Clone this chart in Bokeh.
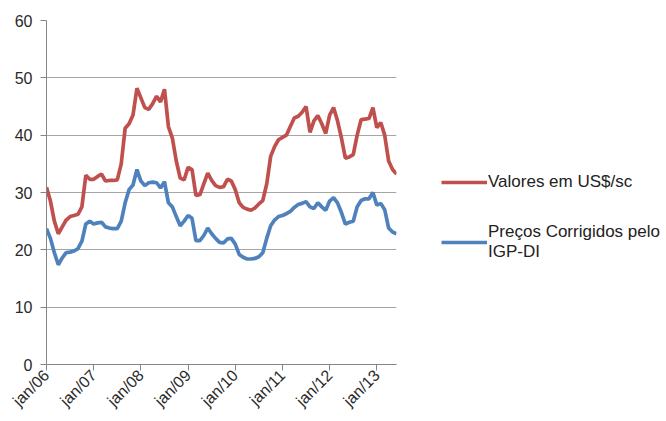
import math
from bokeh.plotting import figure
from bokeh.models import FixedTicker, Range1d, Legend, LegendItem
from bokeh.embed import file_html
from bokeh.resources import INLINE

# monthly data jan/06 .. jun/13
months = list(range(90))
tick_positions = [0, 12, 24, 36, 48, 60, 72, 84]
tick_labels = ["jan/06", "jan/07", "jan/08", "jan/09", "jan/10", "jan/11", "jan/12", "jan/13"]

valores_usd = [
    30.9, 28.5, 25.0, 22.8, 24.0, 25.2, 25.8, 26.0, 26.2, 27.5,
    33.0, 32.3, 32.3, 32.8, 33.2, 32.0, 32.1, 32.1, 32.2, 35.0,
    41.2, 42.0, 43.5, 48.2, 46.5, 44.8, 44.5, 45.5, 46.8, 45.8,
    48.0, 41.5, 39.5, 35.5, 32.5, 32.2, 34.4, 34.0, 29.5, 29.6,
    31.5, 33.4, 32.1, 31.2, 30.9, 31.0, 32.3, 32.0, 30.5, 28.2,
    27.4, 27.1, 26.9, 27.3, 28.0, 28.6, 31.5, 36.3, 38.0, 39.2,
    39.6, 40.0, 41.5, 43.0, 43.3, 44.0, 45.0, 40.5, 42.5, 43.4,
    42.0, 40.3, 43.5, 44.8, 42.5, 39.5, 36.0, 36.2, 36.6, 40.0,
    42.7, 42.8, 42.9, 44.8, 41.3, 42.2, 40.0, 35.5, 34.0, 33.2,
]
precos_igp = [
    23.7, 22.0, 19.5, 17.4, 18.6, 19.5, 19.6, 19.8, 20.2, 21.5,
    24.5, 25.0, 24.5, 24.7, 24.8, 24.0, 23.8, 23.7, 23.7, 25.0,
    28.2, 30.5, 31.3, 34.0, 32.0, 31.2, 31.7, 31.8, 31.7, 30.8,
    31.9, 28.2, 27.5, 25.8, 24.2, 25.0, 26.0, 25.5, 21.6, 21.6,
    22.5, 23.8, 22.8, 22.0, 21.3, 21.2, 21.9, 22.0, 21.0, 19.2,
    18.7, 18.4, 18.4, 18.5, 18.8, 19.5, 22.0, 24.2, 25.2, 25.8,
    26.0, 26.3, 26.7, 27.4, 27.9, 28.1, 28.4, 27.5, 27.2, 28.2,
    27.5, 26.9, 28.5, 29.1, 28.2, 26.5, 24.5, 24.8, 25.0, 27.5,
    28.6, 28.9, 28.9, 30.0, 27.8, 28.1, 27.0, 23.8, 23.1, 22.8,
]
series_names = ["Valores em US$/sc", "Preços Corrigidos pelo\nIGP-DI"]
colors = ["#C0504D", "#4F81BD"]

p = figure(frame_width=350, frame_height=344, output_backend="svg", toolbar_location=None,
           x_range=Range1d(0, 89), y_range=Range1d(0, 60),
           min_border_left=46, min_border_top=20, min_border_right=266, min_border_bottom=57)
p.outline_line_color = None
p.background_fill_color = "white"

r1 = p.line(months, valores_usd, line_color=colors[0], line_width=3.7)
r2 = p.line(months, precos_igp, line_color=colors[1], line_width=3.7)

font = "Liberation Sans"
p.xaxis.ticker = FixedTicker(ticks=tick_positions)
p.xaxis.major_label_overrides = {t: l for t, l in zip(tick_positions, tick_labels)}
p.xaxis.major_label_orientation = math.pi / 4
p.yaxis.ticker = FixedTicker(ticks=[0, 10, 20, 30, 40, 50, 60])
for ax in (p.xaxis, p.yaxis):
    ax.axis_line_color = "#868686"
    ax.major_tick_line_color = "#868686"
    ax.major_tick_out = 6
    ax.major_tick_in = 0
    ax.minor_tick_line_color = None
    ax.major_label_text_font = font
    ax.major_label_text_color = "#2a2a2a"
p.xaxis.major_label_text_font_size = "16px"
p.yaxis.major_label_text_font_size = "16px"
p.xaxis.major_label_standoff = 2
p.yaxis.major_label_standoff = 8
p.xgrid.grid_line_color = None
p.ygrid.grid_line_color = "#A6A6A6"
p.ygrid.grid_line_width = 1

legend = Legend(items=[LegendItem(label=series_names[0], renderers=[r1]),
                       LegendItem(label=series_names[1], renderers=[r2])],
                location=(45, 102), border_line_color=None, background_fill_alpha=0,
                glyph_width=46, glyph_height=16, label_text_font=font,
                label_text_font_size="17px", label_text_color="#222222",
                spacing=30, margin=0, padding=0, label_standoff=1)
p.add_layout(legend, "right")

open("out.html", "w").write(file_html(p, INLINE))
